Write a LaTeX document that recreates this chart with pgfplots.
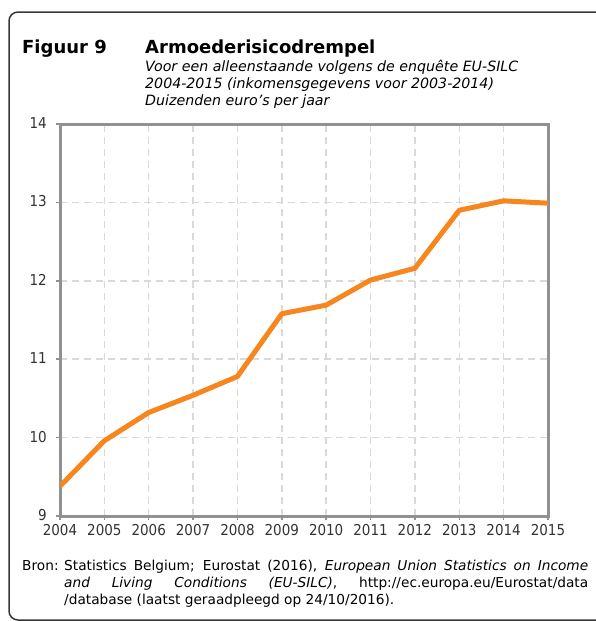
\documentclass[border=0pt]{standalone}
\usepackage{pgfplots}
\pgfplotsset{compat=1.18}
\usepackage{fontspec}
\setmainfont{DejaVu Sans}
\newfontfamily\smal{DejaVu Sans Condensed}

\definecolor{lijnoranje}{RGB}{247,134,30}
\definecolor{asgrijs}{RGB}{145,145,145}
\definecolor{rastergrijs}{RGB}{217,217,217}
\definecolor{kader}{RGB}{55,55,55}

\begin{document}
\begin{tikzpicture}[x=1pt,y=-1pt]
\clip (0,0) rectangle (596,621);
\draw[kader, line width=1.5pt, rounded corners=9pt] (9,12) rectangle (606,620);
\coordinate (hoek) at (60,516);

% titel
\node[anchor=base west, inner sep=0, font=\fontsize{18}{22}\selectfont\bfseries] at (22,53) {Figuur 9};
\node[anchor=base west, inner sep=0, font=\fontsize{18}{22}\selectfont\bfseries] at (145,53) {Armoederisicodrempel};
\node[anchor=base west, inner sep=0, font=\fontsize{14.2}{17}\selectfont\itshape] at (145,71) {Voor een alleenstaande volgens de enquête EU-SILC};
\node[anchor=base west, inner sep=0, font=\fontsize{14.2}{17}\selectfont\itshape] at (145,88) {2004-2015 (inkomensgegevens voor 2003-2014)};
\node[anchor=base west, inner sep=0, font=\fontsize{14.2}{17}\selectfont\itshape] at (145,105) {Duizenden euro's per jaar};

\begin{axis}[
    at={(hoek)}, anchor=south west,
    scale only axis,
    width=488pt, height=392pt,
    xmin=2004, xmax=2015,
    ymin=9, ymax=14,
    xtick={2004,2005,...,2015},
    ytick={9,10,11,12,13,14},
    xticklabel style={/pgf/number format/1000 sep={}, inner sep=1pt, yshift=-3pt},
    yticklabel style={inner sep=1pt, xshift=-8pt, yshift=1pt},
    /pgf/number format/assume math mode=true,
    ticklabel style={font=\smal\fontsize{15}{15}\selectfont, text=black!80},
    axis line style={asgrijs, line width=3pt},
    tick style={asgrijs, line width=1.5pt},
    tick align=outside,
    major tick length=4pt,
    xtick pos=left, ytick pos=left,
    grid=major,
    grid style={rastergrijs, line width=1.5pt, dash pattern=on 7pt off 5pt},
]
\addplot[lijnoranje, line width=5pt, line join=round] coordinates {
    (2004,9.38)(2005,9.96)(2006,10.32)(2007,10.54)(2008,10.78)(2009,11.58)
    (2010,11.69)(2011,12.01)(2012,12.16)(2013,12.90)(2014,13.02)(2015,12.99)
};
\end{axis}

% bron
\node[anchor=base west, inner sep=0, font=\fontsize{13.7}{17}\selectfont] at (22,570) {Bron:};
\node[anchor=base west, inner sep=0, font=\fontsize{13.7}{17}\selectfont] at (64,570)
  {\makebox[524pt][s]{Statistics Belgium; Eurostat (2016), \textit{European Union Statistics on Income}}};
\node[anchor=base west, inner sep=0, font=\fontsize{13.7}{17}\selectfont] at (64,587)
  {\makebox[524pt][s]{\textit{and Living Conditions (EU-SILC)}, http://ec.europa.eu/Eurostat/data}};
\node[anchor=base west, inner sep=0, font=\fontsize{13.7}{17}\selectfont] at (64,604)
  {/database (laatst geraadpleegd op 24/10/2016).};
\end{tikzpicture}
\end{document}
